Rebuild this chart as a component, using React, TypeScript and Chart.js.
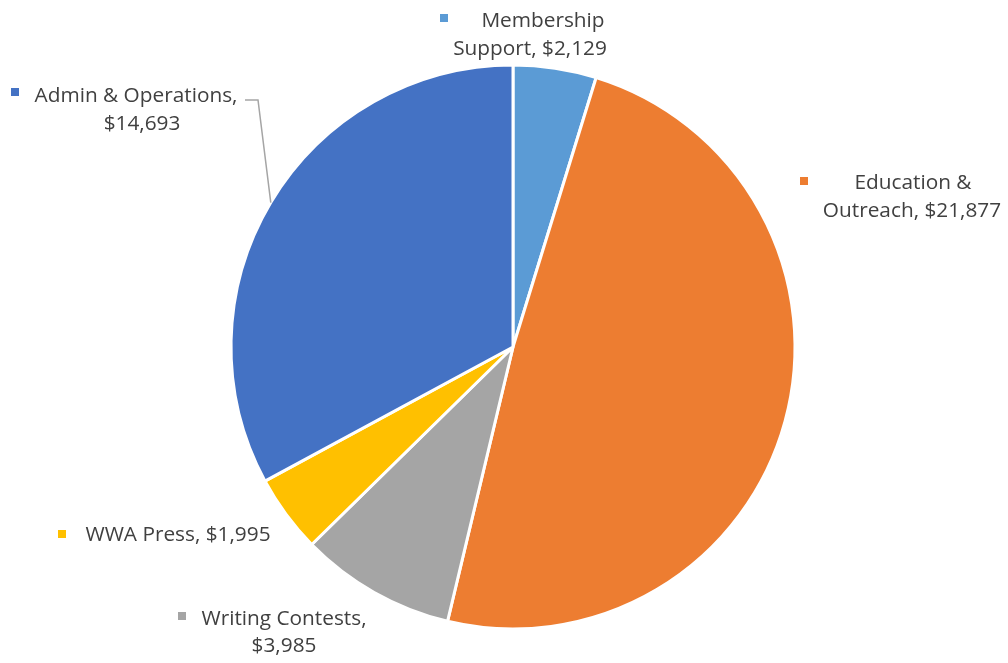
import React, { useEffect, useRef } from "react";
import { Chart, registerables } from "chart.js";

Chart.register(...registerables);

const categories = [
  "Membership Support",
  "Education & Outreach",
  "Writing Contests",
  "WWA Press",
  "Admin & Operations",
];
const amounts = [2129, 21877, 3985, 1995, 14693];
const sliceColors = ["#5B9BD5", "#ED7D31", "#A5A5A5", "#FFC000", "#4472C4"];
const labelLines = [
  ["Membership", "Support, $2,129"],
  ["Education &", "Outreach, $21,877"],
  ["Writing Contests,", "$3,985"],
  ["WWA Press, $1,995"],
  ["Admin & Operations,", "$14,693"],
];

// label layout (annotation positions only)
const labelLayout = [
  { mx: 440, my: 14, lines: [{ cx: 543, by: 27 }, { cx: 530, by: 55 }] },
  { mx: 800, my: 177, lines: [{ cx: 913, by: 189 }, { cx: 912, by: 217 }] },
  { mx: 178, my: 612, lines: [{ cx: 284, by: 625 }, { cx: 284, by: 652 }] },
  { mx: 58, my: 530, lines: [{ cx: 178, by: 541 }] },
  { mx: 11, my: 88, lines: [{ cx: 136, by: 102 }, { cx: 142, by: 130 }] },
];

const FONT = '20.8px "Open Sans", Lato, sans-serif';

const labelPlugin = {
  id: "excelLabels",
  afterDraw(chart: any) {
    const ctx = chart.ctx;
    const meta = chart.getDatasetMeta(0);
    ctx.save();
    // leader line for Admin & Operations
    const arc = meta.data[4];
    if (arc) {
      const p = arc.getProps(["x", "y", "startAngle", "endAngle", "outerRadius"], true);
      const mid = (p.startAngle + p.endAngle) / 2;
      const ex = p.x + Math.cos(mid) * p.outerRadius;
      const ey = p.y + Math.sin(mid) * p.outerRadius;
      ctx.strokeStyle = "#A5A5A5";
      ctx.lineWidth = 1.5;
      ctx.beginPath();
      ctx.moveTo(245, 100);
      ctx.lineTo(258, 100);
      ctx.lineTo(ex, ey);
      ctx.stroke();
    }
    ctx.font = FONT;
    ctx.textAlign = "center";
    ctx.textBaseline = "alphabetic";
    labelLayout.forEach((lay, i) => {
      ctx.fillStyle = sliceColors[i];
      ctx.fillRect(lay.mx, lay.my, 8, 8);
      ctx.fillStyle = "#404040";
      labelLines[i].forEach((t, j) => {
        const l = lay.lines[j];
        ctx.fillText(t, l.cx, l.by);
      });
    });
    ctx.restore();
  },
};

export default function App() {
  const ref = useRef<HTMLCanvasElement>(null);
  useEffect(() => {
    if (!ref.current) return;
    const chart = new Chart(ref.current, {
      type: "pie",
      data: {
        labels: categories,
        datasets: [
          {
            data: amounts,
            backgroundColor: sliceColors,
            borderColor: "#FFFFFF",
            borderWidth: 3,
          },
        ],
      },
      options: {
        responsive: false,
        animation: false,
        radius: 282,
        layout: { padding: { left: 18, right: 0, top: 31, bottom: 0 } },
        plugins: {
          legend: { display: false },
          tooltip: { enabled: false },
        },
      } as any,
      plugins: [labelPlugin],
    });
    return () => chart.destroy();
  }, []);
  return (
    <div style={{ position: "absolute", left: 0, top: 0, width: 1008, height: 663, background: "#fff" }}>
      <canvas ref={ref} width={1008} height={663} />
    </div>
  );
}
